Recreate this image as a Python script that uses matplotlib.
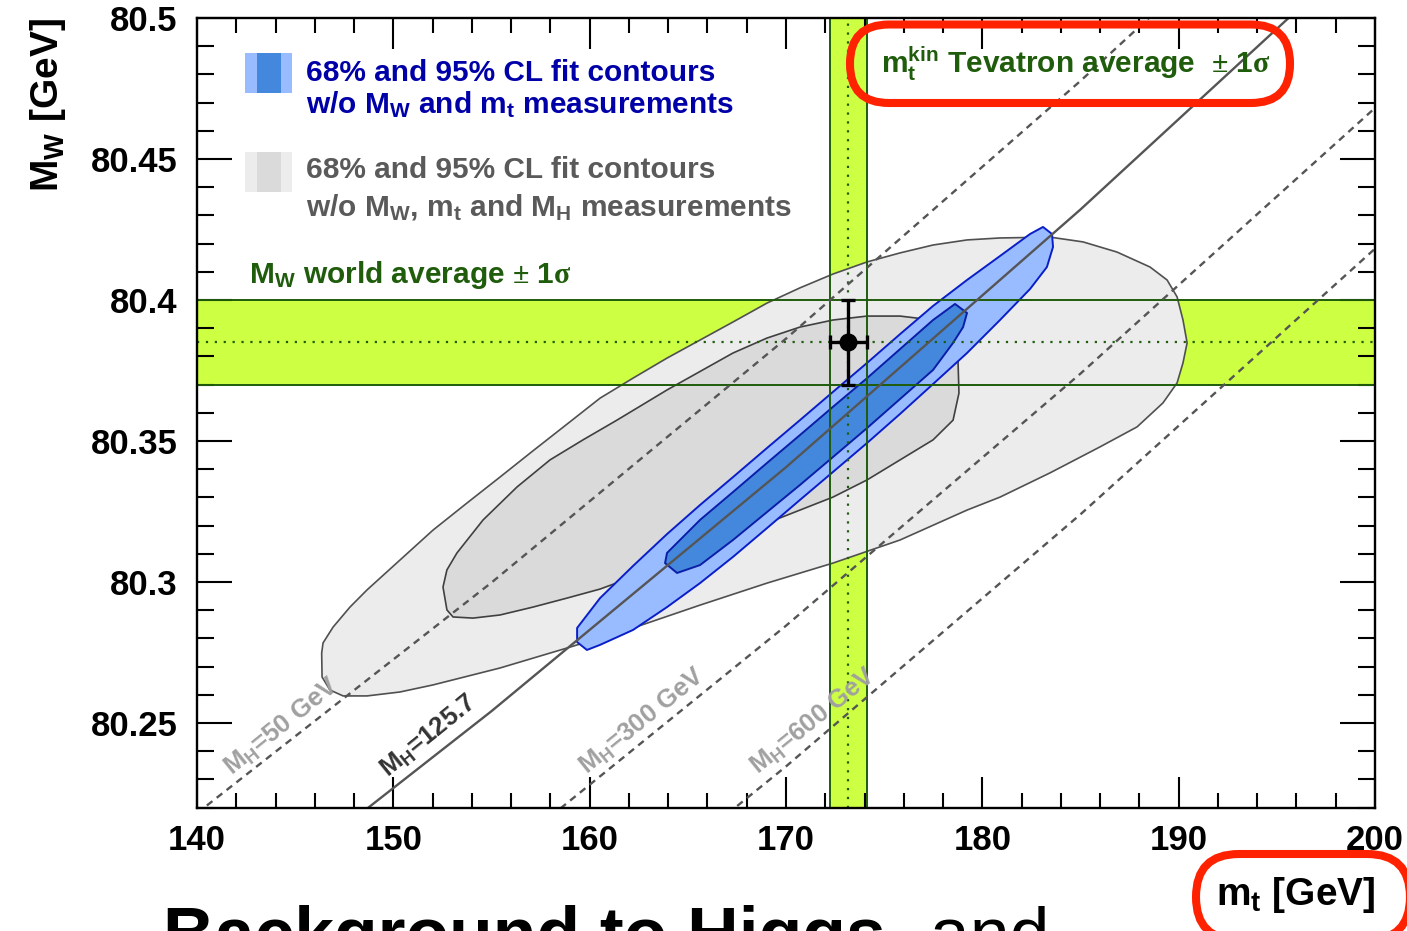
import matplotlib
matplotlib.use('Agg')
import matplotlib.pyplot as plt
from matplotlib.patches import Polygon, Rectangle, FancyBboxPatch
from matplotlib.ticker import MultipleLocator, FormatStrFormatter
from matplotlib.transforms import IdentityTransform

plt.rcParams['font.family'] = ['Liberation Sans', 'DejaVu Sans']
plt.rcParams['font.weight'] = 'bold'
plt.rcParams['mathtext.fontset'] = 'custom'
plt.rcParams['mathtext.rm'] = 'Liberation Sans:bold'
plt.rcParams['mathtext.it'] = 'Liberation Sans:bold'
plt.rcParams['mathtext.bf'] = 'Liberation Sans:bold'
# \mathsf is used for the thin serif symbols (plus-minus, sigma)
plt.rcParams['mathtext.sf'] = 'Liberation Serif'

# direct measurements
mt_avg, mt_err = 173.18, 0.94
mw_avg, mw_err = 80.385, 0.015

# fit without MW, mt and MH (grey)
outer95_mt = [146.42, 146.35, 146.37, 146.77, 147.44, 148.66, 150.34, 152.02, 155.43, 158.85,
              162.21, 165.62, 169.03, 172.39, 175.81, 179.22, 180.90, 183.45, 185.99, 187.88,
              189.20, 189.92, 190.22, 190.43, 190.22, 189.92, 189.41, 188.54, 186.86, 185.13,
              183.45, 180.90, 179.22, 177.49, 175.81, 174.13, 172.39, 170.71, 169.03, 167.30,
              165.62, 163.94, 162.21, 160.53, 158.85, 157.11, 155.43, 153.75, 152.02, 150.34,
              148.66, 147.79, 146.93]
outer95_mw = [80.2784, 80.2748, 80.2663, 80.2617, 80.2596, 80.2596, 80.2610, 80.2635, 80.2695, 80.2766,
              80.2837, 80.2918, 80.2996, 80.3067, 80.3149, 80.3255, 80.3301, 80.3387, 80.3479, 80.3550,
              80.3635, 80.3706, 80.3777, 80.3848, 80.3929, 80.4011, 80.4071, 80.4117, 80.4170, 80.4206,
              80.4223, 80.4220, 80.4213, 80.4195, 80.4167, 80.4135, 80.4092, 80.4043, 80.3989, 80.3922,
              80.3858, 80.3794, 80.3723, 80.3652, 80.3560, 80.3465, 80.3372, 80.3280, 80.3184, 80.3078,
              80.2972, 80.2911, 80.2840]
inner68_mt = [152.73, 152.53, 152.73, 153.04, 154.06, 155.43, 157.11, 158.85, 160.53, 162.21,
              163.94, 165.62, 167.30, 169.03, 170.71, 172.39, 174.13, 175.81, 177.49, 178.51,
              178.81, 178.76, 178.51, 177.49, 175.81, 174.13, 172.39, 170.71, 169.03, 167.30,
              163.94, 161.39, 159.66, 157.98, 156.30, 154.57, 153.24]
inner68_mw = [80.3043, 80.2982, 80.2901, 80.2876, 80.2872, 80.2883, 80.2911, 80.2943, 80.2975, 80.3018,
              80.3067, 80.3113, 80.3160, 80.3209, 80.3255, 80.3301, 80.3362, 80.3433, 80.3504, 80.3574,
              80.3670, 80.3787, 80.3883, 80.3929, 80.3943, 80.3943, 80.3929, 80.3904, 80.3865, 80.3812,
              80.3681, 80.3574, 80.3504, 80.3433, 80.3337, 80.3220, 80.3103]

# fit without MW and mt (blue)
blue95_mt = [159.36, 160.53, 162.21, 163.94, 165.62, 167.30, 169.03, 170.71, 172.39, 174.13,
             175.81, 177.49, 179.22, 180.90, 182.43, 183.09, 183.55, 183.60, 183.29, 182.43,
             180.90, 179.22, 177.49, 175.81, 174.13, 172.39, 170.71, 169.03, 167.30, 165.62,
             163.94, 162.21, 160.53, 159.86, 159.36]
blue95_mw = [80.2837, 80.2943, 80.3057, 80.3170, 80.3273, 80.3372, 80.3475, 80.3574, 80.3674, 80.3777,
             80.3879, 80.3979, 80.4071, 80.4156, 80.4234, 80.4259, 80.4234, 80.4188, 80.4117, 80.4039,
             80.3929, 80.3812, 80.3702, 80.3596, 80.3493, 80.3390, 80.3291, 80.3191, 80.3089, 80.2996,
             80.2911, 80.2830, 80.2777, 80.2759, 80.2787]
blue68_mt = [163.84, 163.94, 165.62, 167.30, 169.03, 170.71, 172.39, 174.13, 175.81, 177.49,
             178.61, 179.22, 179.02, 178.51, 177.49, 175.81, 174.13, 172.39, 170.71, 169.03,
             167.30, 165.62, 164.45]
blue68_mw = [80.3067, 80.3103, 80.3220, 80.3319, 80.3422, 80.3521, 80.3621, 80.3723, 80.3826, 80.3929,
             80.3986, 80.3954, 80.3904, 80.3848, 80.3752, 80.3649, 80.3546, 80.3443, 80.3344, 80.3248,
             80.3149, 80.3060, 80.3032]

# SM prediction of MW vs mt for fixed MH
sm_mt = [140, 155, 170, 185, 200]
mw_mh50 = [80.2180, 80.2998, 80.3863, 80.4777, 80.5738]
mw_mh125 = [80.1724, 80.2542, 80.3407, 80.4321, 80.5282]
mw_mh300 = [80.1201, 80.1999, 80.2845, 80.3739, 80.4681]
mw_mh600 = [80.0702, 80.1500, 80.2346, 80.3240, 80.4182]

band_col = '#cdff42'
green = '#1f5c0c'
line_col = '#555555'
pm_sigma = r'$\mathsf{\pm}$ 1$\mathsf{\sigma}$'

W, H = 1407, 931
fig = plt.figure(figsize=(W / 100, H / 100), dpi=100)
ax = fig.add_axes([197 / W, 1 - 807.6 / H, 1178 / W, 789.6 / H])
ax.set_xlim(140, 200)
ax.set_ylim(80.22, 80.5)


def fxy(px, py):
    return px / W, 1 - py / H


# bands
ax.axhspan(mw_avg - mw_err, mw_avg + mw_err, color=band_col, lw=0, zorder=1)
ax.axvspan(mt_avg - mt_err, mt_avg + mt_err, color=band_col, lw=0, zorder=1)

# contours
poly_kw = dict(closed=True, joinstyle='round')
ax.add_patch(Polygon(list(zip(outer95_mt, outer95_mw)), fc='#ececec', ec='#505050', lw=1.2, zorder=2, **poly_kw))
ax.add_patch(Polygon(list(zip(inner68_mt, inner68_mw)), fc='#dadada', ec='#404040', lw=1.2, zorder=2.1, **poly_kw))
ax.add_patch(Polygon(list(zip(blue95_mt, blue95_mw)), fc='#99bbff', ec='#0a1ec8', lw=1.4, zorder=3, **poly_kw))
ax.add_patch(Polygon(list(zip(blue68_mt, blue68_mw)), fc='#4488dd', ec='#0a1ea8', lw=1.4, zorder=3.1, **poly_kw))

# band borders and central values
for y in (mw_avg - mw_err, mw_avg + mw_err):
    ax.axhline(y, color=green, lw=1.4, zorder=4)
for x in (mt_avg - mt_err, mt_avg + mt_err):
    ax.axvline(x, color=green, lw=1.4, zorder=4)
ax.axhline(mw_avg, color=green, lw=1.6, ls=(0, (1, 3)), zorder=4)
ax.axvline(mt_avg, color=green, lw=1.6, ls=(0, (1, 3)), zorder=4)

# SM lines
dash = (0, (3, 2.3))
ax.plot(sm_mt, mw_mh50, color=line_col, lw=1.7, ls=dash, zorder=5)
ax.plot(sm_mt, mw_mh125, color=line_col, lw=1.7, zorder=5)
ax.plot(sm_mt, mw_mh300, color=line_col, lw=1.7, ls=dash, zorder=5)
ax.plot(sm_mt, mw_mh600, color=line_col, lw=1.7, ls=dash, zorder=5)

lab_kw = dict(fontsize=18.5, rotation=39, ha='center', va='center', rotation_mode='anchor', zorder=6)
ax.text(144.33, 80.2486, r'M$_{\rm H}$=50 GeV', color='#a0a0a0', **lab_kw)
ax.text(151.82, 80.2454, r'M$_{\rm H}$=125.7', color='#333333', **lab_kw)
ax.text(162.67, 80.2504, r'M$_{\rm H}$=300 GeV', color='#a0a0a0', **lab_kw)
ax.text(171.38, 80.2507, r'M$_{\rm H}$=600 GeV', color='#a0a0a0', **lab_kw)

# measurement point
ax.errorbar(mt_avg, mw_avg, xerr=mt_err, yerr=mw_err, fmt='o', color='black', ms=12,
            elinewidth=2.4, capsize=5, capthick=2.4, zorder=7)

# axes style
ax.xaxis.set_major_locator(MultipleLocator(10))
ax.xaxis.set_minor_locator(MultipleLocator(2))
ax.yaxis.set_major_locator(MultipleLocator(0.05))
ax.yaxis.set_minor_locator(MultipleLocator(0.01))
ax.yaxis.set_major_formatter(FormatStrFormatter('%g'))
ax.tick_params(which='both', direction='in', top=True, right=True, width=1.5, labelsize=25)
ax.tick_params(axis='y', which='major', length=25, pad=14)
ax.tick_params(axis='y', which='minor', length=12)
ax.tick_params(axis='x', which='major', length=22, pad=12)
ax.tick_params(axis='x', which='minor', length=11)
for s in ax.spines.values():
    s.set_linewidth(1.7)
    s.set_zorder(8)

fig.text(*fxy(1375, 905), r'm$_{\rm t}$ [GeV]', ha='right', va='baseline', fontsize=28)
fig.text(*fxy(48, 18), r'M$_{\rm W}$ [GeV]', rotation=90, ha='center', va='top', fontsize=28)

# legend
for x0, x1, c in [(245, 257, '#99bbff'), (257, 281, '#4488dd'), (281, 292, '#99bbff')]:
    fig.add_artist(Rectangle(fxy(x0, 93), (x1 - x0) / W, 40 / H, transform=fig.transFigure, fc=c, lw=0))
for x0, x1, c in [(245, 257, '#ececec'), (257, 281, '#dadada'), (281, 292, '#ececec')]:
    fig.add_artist(Rectangle(fxy(x0, 192), (x1 - x0) / W, 40 / H, transform=fig.transFigure, fc=c, lw=0))

leg_kw = dict(fontsize=21.5, va='baseline')
fig.text(*fxy(306, 81), '68% and 95% CL fit contours', color='#0000a8', **leg_kw)
fig.text(*fxy(306, 113), r'w/o M$_{\rm W}$ and m$_{\rm t}$ measurements', color='#0000a8', **leg_kw)
fig.text(*fxy(306, 178), '68% and 95% CL fit contours', color='#5a5a5a', **leg_kw)
fig.text(*fxy(306, 216), r'w/o M$_{\rm W}$, m$_{\rm t}$ and M$_{\rm H}$ measurements', color='#5a5a5a', **leg_kw)
fig.text(*fxy(249, 283), r'M$_{\rm W}$ world average ' + pm_sigma, color=green, **leg_kw)
fig.text(*fxy(881, 73), r'm$_{\rm t}^{\rm kin}$ Tevatron average  ' + pm_sigma, color=green, **leg_kw)

# highlight boxes
fig.add_artist(FancyBboxPatch((850, H - 103), 440, 78.5, boxstyle='round,pad=0,rounding_size=39',
                              transform=IdentityTransform(), fill=False, ec='#ff2200', lw=5.8))
fig.add_artist(FancyBboxPatch((1196, H - 940), 214, 86, boxstyle='round,pad=0,rounding_size=43',
                              transform=IdentityTransform(), fill=False, ec='#ff2200', lw=5.8))

# slide title underneath
fig.text(*fxy(163, 958), 'Background to Higgs,', fontsize=51.5, fontweight='bold', va='baseline')
fig.text(*fxy(930, 958), 'and', fontsize=51.5, fontweight='normal', va='baseline')

fig.savefig('out.png', dpi=100)
